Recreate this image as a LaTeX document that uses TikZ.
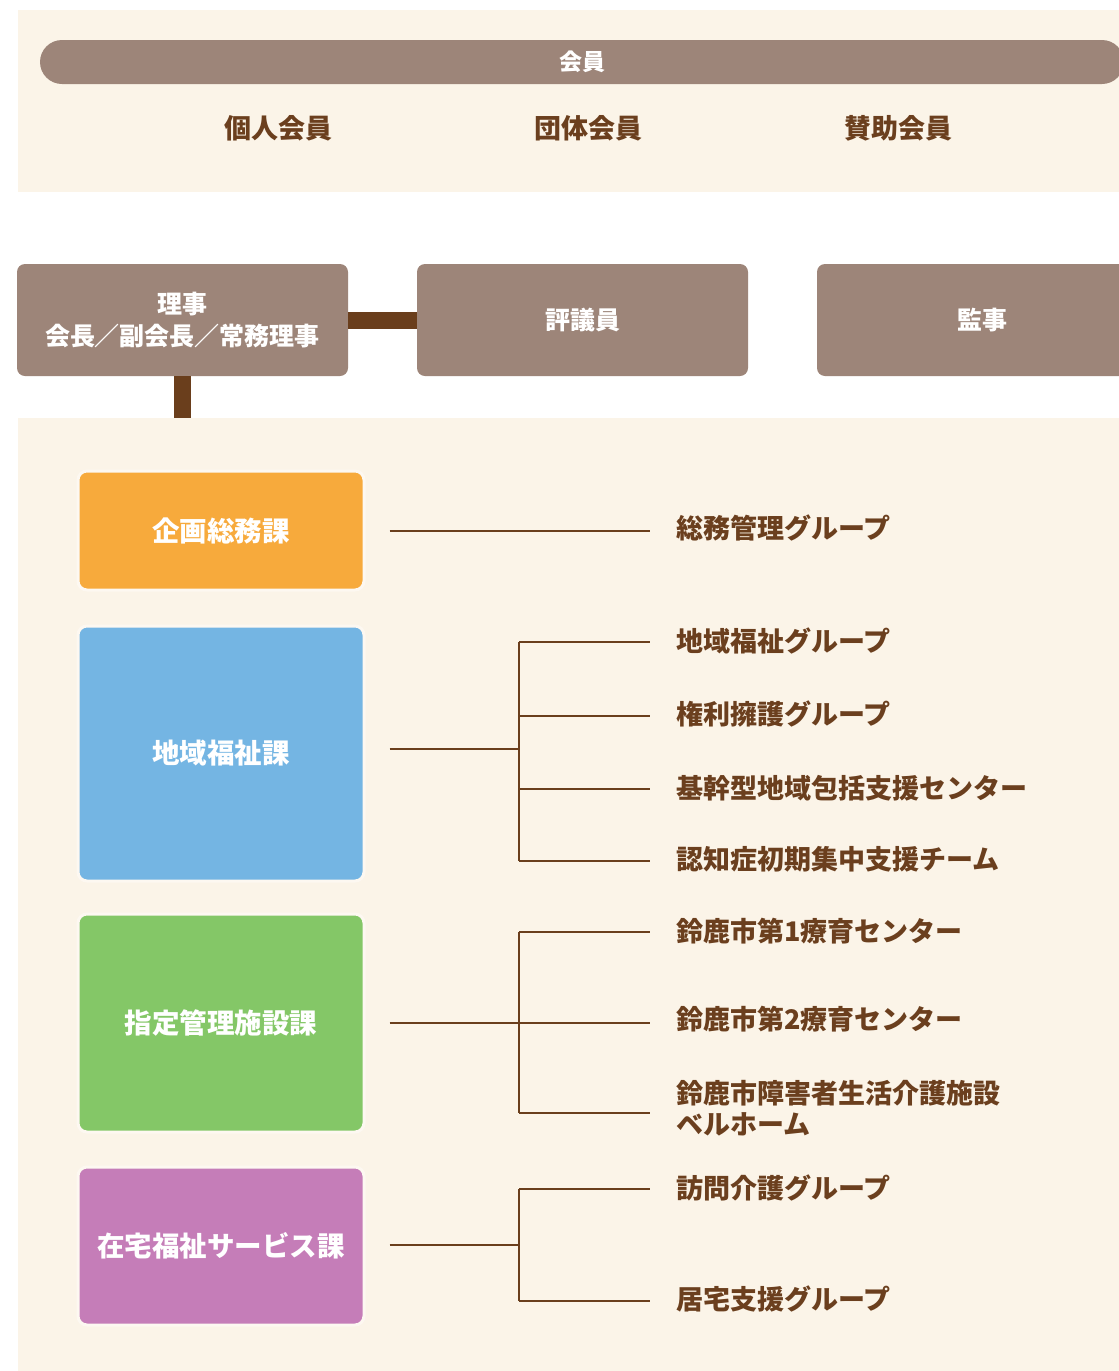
\documentclass[tikz,border=0pt]{standalone}
\usepackage{fontspec}
\newfontfamily\jp{Noto Sans CJK JP}
\definecolor{cream}{HTML}{FBF4E8}
\definecolor{boxgray}{HTML}{9D8579}
\definecolor{dbrown}{HTML}{6A3E1C}
\definecolor{tbrown}{HTML}{6B3F1E}
\definecolor{corange}{HTML}{F7AA3C}
\definecolor{cblue}{HTML}{74B5E3}
\definecolor{cgreen}{HTML}{84C767}
\definecolor{cpurple}{HTML}{C57DB8}
\begin{document}
\begin{tikzpicture}[x=1pt,y=-1pt,
  graybox/.style={fill=boxgray,rounded corners=8pt,minimum width=331pt,minimum height=112pt,inner sep=0pt,text=white,font=\jp\bfseries\fontsize{25}{32}\selectfont,align=center},
  dept/.style={fill=#1,draw=white!40!cream,line width=3pt,rounded corners=9pt,minimum width=286pt,inner sep=0pt,text=white,font=\jp\bfseries\fontsize{27.5}{32}\selectfont},
  grp/.style={anchor=west,inner sep=0pt,text=tbrown,font=\jp\bfseries\fontsize{27}{31}\selectfont,align=left},
  member/.style={inner sep=0pt,text=tbrown,font=\jp\bfseries\fontsize{27}{31}\selectfont},
  br/.style={draw=dbrown,line width=2.9pt},
  thickc/.style={draw=dbrown,line width=17pt}]
\useasboundingbox (0,0) rectangle (1119,1371);
\clip (0,0) rectangle (1119,1371);
\fill[white] (0,0) rectangle (1119,1371);
\fill[cream] (18,10) rectangle (1119,192);
\fill[cream] (18,418) rectangle (1119,1371);

% members
\node[fill=boxgray,rounded corners=22pt,minimum width=1084pt,minimum height=44pt,inner sep=0pt,text=white,font=\jp\bfseries\fontsize{23}{28}\selectfont] (kaiin) at (582,62) {会員};
\node[member] (kojin) at (278,128) {個人会員};
\node[member] (dantai) at (588,128) {団体会員};
\node[member] (sanjo) at (898,128) {賛助会員};

% board
\node[graybox] (riji) at (182.5,320) {理事\\会長／副会長／常務理事};
\node[graybox] (hyogi) at (582.5,320) {評議員};
\node[graybox] (kanji) at (982.5,320) {監事};
\draw[thickc] (riji.east) -- (hyogi.west);
\coordinate (ptop) at (182.5,418);
\draw[thickc] (riji.south) -- (ptop);

% departments
\node[dept=corange,minimum height=119pt] (d1) at (221,530.5) {企画総務課};
\node[dept=cblue,minimum height=255pt] (d2) at (221,753.5) {地域福祉課};
\node[dept=cgreen,minimum height=218pt] (d3) at (221,1023) {指定管理施設課};
\node[dept=cpurple,minimum height=158pt] (d4) at (221,1246) {在宅福祉サービス課};

% groups
\node[grp] (g11) at (676,528) {総務管理グループ};
\node[grp] (g21) at (676,641) {地域福祉グループ};
\node[grp] (g22) at (676,714) {権利擁護グループ};
\node[grp] (g23) at (676,788) {基幹型地域包括支援センター};
\node[grp] (g24) at (676,859) {認知症初期集中支援チーム};
\node[grp] (g31) at (676,931) {鈴鹿市第1療育センター};
\node[grp] (g32) at (676,1019) {鈴鹿市第2療育センター};
\node[grp] (g33) at (676,1108) {鈴鹿市障害者生活介護施設\\ベルホーム};
\node[grp] (g41) at (676,1188) {訪問介護グループ};
\node[grp] (g42) at (676,1299) {居宅支援グループ};

% connectors
\coordinate (j1) at (519,531);
\coordinate (j2) at (519,749);
\coordinate (j3) at (519,1023);
\coordinate (j4) at (519,1245);
\draw[br] ([xshift=24pt]d1.east |- j1) -- ([xshift=-26pt]g11.west |- j1);

\draw[br] ([xshift=24pt]d2.east |- j2) -- (j2);
\draw[br] (j2 |- 0,642) -- (j2 |- 0,861);
\foreach \n/\y in {g21/642,g22/716,g23/789,g24/861}
  \draw[br] (j2 |- 0,\y) -- ([xshift=-26pt]\n.west |- 0,\y);

\draw[br] ([xshift=24pt]d3.east |- j3) -- (j3);
\draw[br] (j3 |- 0,932) -- (j3 |- 0,1113);
\foreach \n/\y in {g31/932,g32/1023,g33/1113}
  \draw[br] (j3 |- 0,\y) -- ([xshift=-26pt]\n.west |- 0,\y);

\draw[br] ([xshift=24pt]d4.east |- j4) -- (j4);
\draw[br] (j4 |- 0,1189) -- (j4 |- 0,1301);
\foreach \n/\y in {g41/1189,g42/1301}
  \draw[br] (j4 |- 0,\y) -- ([xshift=-26pt]\n.west |- 0,\y);
\end{tikzpicture}
\end{document}
